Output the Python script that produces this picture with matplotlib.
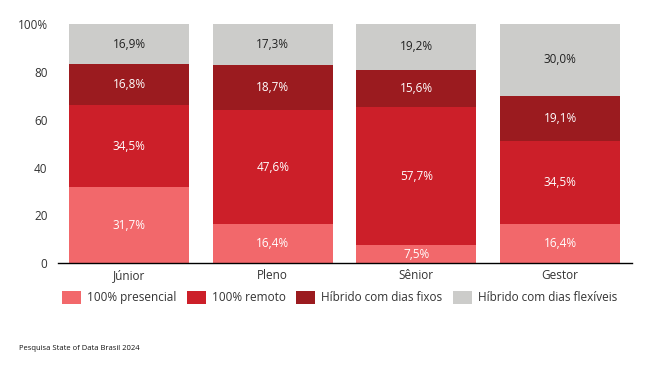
import matplotlib
matplotlib.use("Agg")
import matplotlib.pyplot as plt
import numpy as np

categories = ["Júnior", "Pleno", "Sênior", "Gestor"]
series_names = ["100% presencial", "100% remoto", "Híbrido com dias fixos", "Híbrido com dias flexíveis"]
presencial = [31.7, 16.4, 7.5, 16.4]
remoto = [34.5, 47.6, 57.7, 34.5]
fixos = [16.8, 18.7, 15.6, 19.1]
flexiveis = [16.9, 17.3, 19.2, 30.0]
colors = ["#F2686B", "#CC1F29", "#9B1B1F", "#CCCCCA"]
text_colors = ["white", "white", "white", "#222222"]

plt.rcParams['font.family'] = ['Open Sans', 'DejaVu Sans']

fig = plt.figure(figsize=(6.47, 3.72), dpi=100)
ax = fig.add_axes([0.0896, 0.2917, 0.887, 0.645])

x = np.arange(len(categories))
bottom = np.zeros(len(categories))
handles = []
for vals, c, tc, name in zip([presencial, remoto, fixos, flexiveis], colors, text_colors, series_names):
    vals = np.array(vals)
    b = ax.bar(x, vals, 0.835, bottom=bottom, color=c, label=name, zorder=2)
    handles.append(b)
    for xi, v, bt in zip(x, vals, bottom):
        ax.text(xi, bt + v / 2, f"{v:.1f}%".replace(".", ","), ha="center", va="center",
                color=tc, fontsize=8.5)
    bottom += vals

ax.set_xlim(-0.495, 3.5)
ax.set_ylim(0, 100)
ax.set_yticks([0, 20, 40, 60, 80, 100])
ax.set_yticklabels(["0", "20", "40", "60", "80", "100%"])
ax.set_xticks(x)
ax.set_xticklabels(categories)
ax.tick_params(axis="both", length=0, labelsize=8.5, colors="#333333")
ax.tick_params(axis="y", pad=7.5)
ax.tick_params(axis="x", pad=4)
for s in ["top", "right", "left"]:
    ax.spines[s].set_visible(False)
ax.spines["bottom"].set_color("black")
ax.spines["bottom"].set_linewidth(1)

fig.legend(handles=handles, labels=series_names, loc="center", bbox_to_anchor=(0.525, 0.2),
           ncol=4, frameon=False, fontsize=8.5, handlelength=1.6, handleheight=1.3,
           columnspacing=0.9, handletextpad=0.5, labelcolor="#333333")

fig.text(0.03, 0.058, "Pesquisa State of Data Brasil 2024", fontsize=5.5, color="#111111")

fig.savefig("out.png", dpi=100)
